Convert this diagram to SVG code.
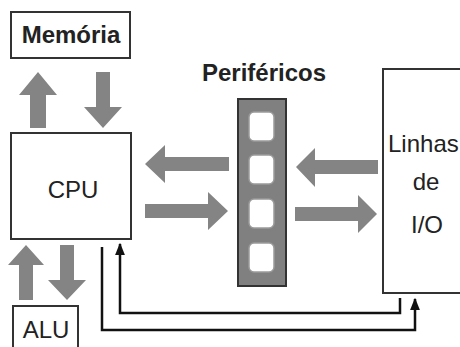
<svg xmlns="http://www.w3.org/2000/svg" width="460" height="347" viewBox="0 0 460 347">
<defs>
<style>
.box{fill:#ffffff;stroke:#333333;stroke-width:2}
.t{font-family:"Liberation Sans",Arial,sans-serif;font-size:24px;fill:#222222;text-anchor:middle}
.b{font-weight:bold}
.ga{fill:#848484}
.ln{fill:none;stroke:#111111;stroke-width:2.5}
.slot{fill:#ffffff;stroke:#9a9a9a;stroke-width:1.5}
</style>
<marker id="ah" viewBox="0 0 10 8" refX="9" refY="4" markerWidth="5" markerHeight="4" orient="auto" markerUnits="strokeWidth">
<path d="M0,0 L10,4 L0,8 Z" fill="#111111"/>
</marker>
</defs>
<rect width="460" height="347" fill="#ffffff"/>
<g id="memoria">
<rect class="box" x="11" y="12" width="119" height="46"/>
<text class="t b" x="71" y="43">Memória</text>
</g>
<g id="cpu">
<rect class="box" x="11" y="133" width="120" height="106"/>
<text class="t" x="73" y="198">CPU</text>
</g>
<g id="alu">
<rect class="box" x="13" y="306" width="65" height="50"/>
<text class="t" x="46" y="338">ALU</text>
</g>
<g id="perifericos">
<text class="t b" x="264" y="81">Periféricos</text>
<rect x="238" y="99" width="48" height="187" fill="#808080" stroke="#333333" stroke-width="2"/>
<rect class="slot" x="249" y="112" width="25" height="29" rx="5"/>
<rect class="slot" x="249" y="155" width="25" height="29" rx="5"/>
<rect class="slot" x="249" y="199" width="25" height="29" rx="5"/>
<rect class="slot" x="249" y="243" width="25" height="29" rx="5"/>
</g>
<g id="linhas-io">
<rect class="box" x="383" y="69" width="90" height="224"/>
<text class="t" x="388" y="152" style="text-anchor:start">Linhas</text>
<text class="t" x="426" y="190">de</text>
<text class="t" x="427" y="233">I/O</text>
</g>
<g id="connectors">
<polygon class="ga" points="38,72 57,95 46,95 46,128 30,128 30,95 19,95"/>
<polygon class="ga" points="96,72 110,72 110,107 122,107 103,128 84,107 96,107"/>
<polygon class="ga" points="26,245 44,265 33,265 33,300 19,300 19,265 8,265"/>
<polygon class="ga" points="60,245 74,245 74,280 86,280 67,300 48,280 60,280"/>
<polygon class="ga" points="145,164 165,145 165,157 229,157 229,171 165,171 165,183"/>
<polygon class="ga" points="145,204 208,204 208,192 228,211 208,230 208,218 145,218"/>
<polygon class="ga" points="296,167 315,148 315,160 378,160 378,174 315,174 315,187"/>
<polygon class="ga" points="295,207 358,207 358,195 377,214 358,233 358,221 295,221"/>
<polyline class="ln" points="102,247 102,330 415,330 415,299" marker-end="url(#ah)"/>
<polyline class="ln" points="400,298 400,313 120,313 120,244" marker-end="url(#ah)"/>
</g>
</svg>
